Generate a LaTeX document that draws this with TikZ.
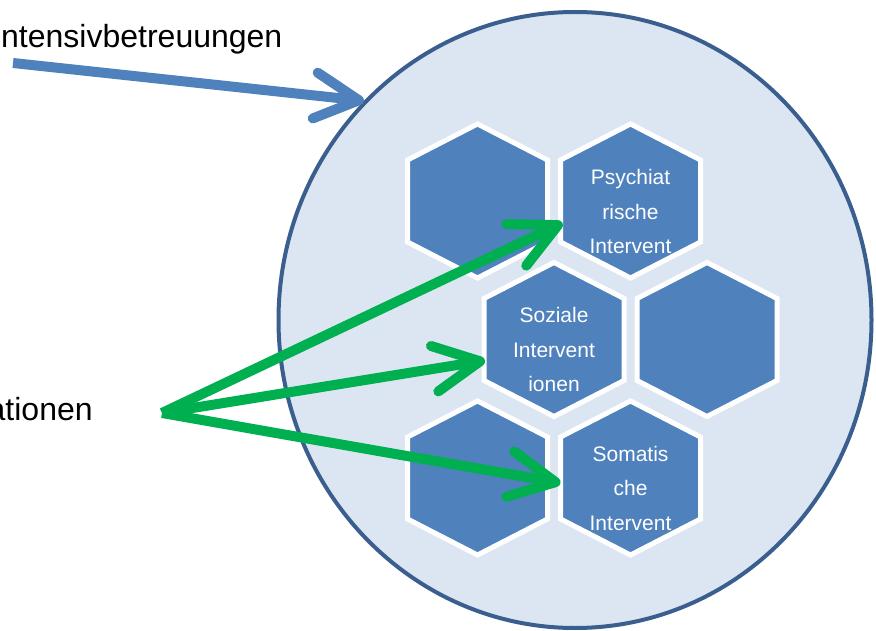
\documentclass[tikz,border=0pt]{standalone}
\usepackage{fontspec}
\setmainfont{Liberation Sans}
\usetikzlibrary{arrows.meta,shapes.geometric,calc}
\definecolor{hexblue}{HTML}{4F81BD}
\definecolor{circfill}{HTML}{DCE6F2}
\definecolor{circline}{HTML}{3A5F8F}
\definecolor{arrgreen}{HTML}{00B050}
\tikzset{
  hexshape/.pic={\filldraw[fill=hexblue,draw=white,line width=5pt,line join=miter]
     (0,-77) -- (70,-41) -- (70,41) -- (0,77) -- (-70,41) -- (-70,-41) -- cycle;},
  hextext/.style={text=white,align=center,font=\fontsize{21}{34.5}\selectfont,inner sep=0pt},
  lbltext/.style={font=\fontsize{32}{36}\selectfont,anchor=base west,inner sep=0pt},
  bluearrow/.style={draw=hexblue,line width=10pt,-{Straight Barb[length=44pt,width=46pt,round]}},
  greenarrow/.style={draw=arrgreen,line width=10pt,-{Straight Barb[length=46pt,width=46pt,round]}}
}
\begin{document}
\begin{tikzpicture}[x=1pt,y=-1pt]
\useasboundingbox (0,0) rectangle (876,631);
\node[ellipse,draw=circline,fill=circfill,line width=4pt,minimum width=593pt,minimum height=616pt,inner sep=0pt] (circ) at (575,320) {};
\coordinate (hexA) at (477.5,201);
\coordinate (hexB) at (630.5,201);
\coordinate (hexC) at (554,339.5);
\coordinate (hexD) at (707,339.5);
\coordinate (hexE) at (477.5,478);
\coordinate (hexF) at (630.5,478);
\foreach \h in {hexA,hexB,hexC,hexD,hexE,hexF} {\pic at (\h) {hexshape};}
\node[hextext] (psy) at ($(hexB)+(0,10.5)$) {Psychiat\\rische\\Intervent};
\node[hextext] (soz) at ($(hexC)+(0,10)$) {Soziale\\Intervent\\ionen};
\node[hextext] (som) at ($(hexF)+(0,10)$) {Somatis\\che\\Intervent};
\node[lbltext] (lblA) at (1,47.5) {ntensivbetreuungen};
\node[lbltext] (lblB) at (-12.5,420.5) {ationen};
\coordinate (bsrc) at (13,63);
\coordinate (gsrc) at (162,413);
\draw[bluearrow] (bsrc) -- (circ.north west);
\draw[greenarrow] (gsrc) -- ($(hexB)+(-68,22)$);
\draw[greenarrow] (gsrc) -- ($(hexC)+(-69,21)$);
\draw[greenarrow] (gsrc) -- ($(hexF)+(-70,5)$);
\end{tikzpicture}
\end{document}
